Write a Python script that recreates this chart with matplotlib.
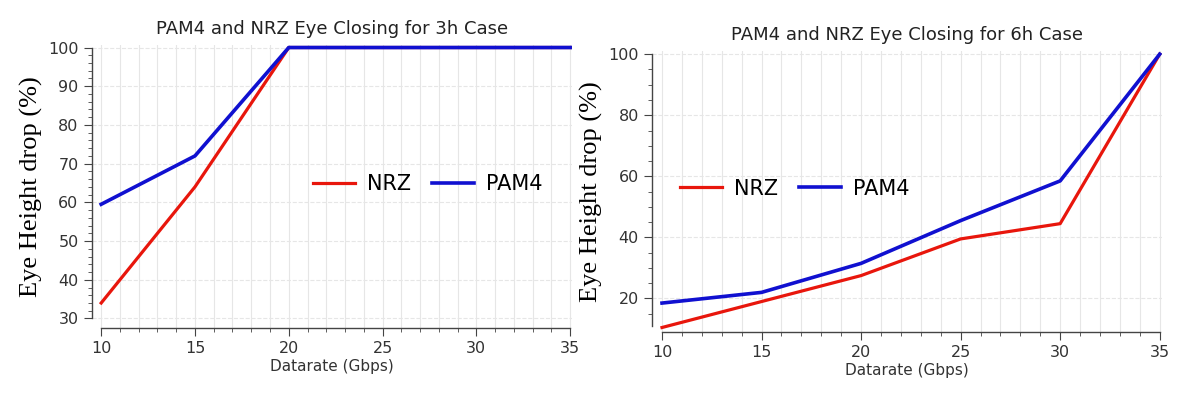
import matplotlib
matplotlib.use("Agg")
import matplotlib.pyplot as plt
import numpy as np
from matplotlib.ticker import MultipleLocator, FixedLocator

# data
rates = [10, 15, 20, 25, 30, 35]
nrz_3h = [34, 64, 100, 100, 100, 100]
pam4_3h = [59.5, 72, 100, 100, 100, 100]
nrz_6h = [10.5, 19, 27.5, 39.5, 44.5, 100]
pam4_6h = [18.5, 22, 31.5, 45.5, 58.5, 100]

fig = plt.figure(figsize=(11.77, 3.93), dpi=100)
ax1 = fig.add_axes([0.078, 0.165, 0.408, 0.72])
ax2 = fig.add_axes([0.554, 0.155, 0.433, 0.715])


def style(ax, title, ylim, ymaj, ymin, ybounds):
    ax.set_xlim(9.5, 35.1)
    ax.set_ylim(*ylim)
    ax.spines["top"].set_visible(False)
    ax.spines["right"].set_visible(False)
    for s in ("left", "bottom"):
        ax.spines[s].set_color("#444444")
        ax.spines[s].set_linewidth(1.0)
    ax.spines["bottom"].set_bounds(10, 35)
    ax.spines["left"].set_bounds(*ybounds)
    ax.xaxis.set_major_locator(MultipleLocator(5))
    ax.xaxis.set_minor_locator(MultipleLocator(1))
    ax.yaxis.set_major_locator(MultipleLocator(ymaj))
    ax.yaxis.set_minor_locator(FixedLocator(np.arange(ybounds[0], ybounds[1] + 0.1, ymin)))
    ax.tick_params(which="major", length=6, color="#444444", labelsize=11.5,
                   labelcolor="#333333")
    ax.tick_params(which="minor", length=3, color="#444444")
    ax.grid(axis="x", which="both", color="#e6e6e6", linewidth=0.8)
    ax.grid(axis="y", which="major", color="#e6e6e6", linewidth=0.8, linestyle="--")
    ax.set_axisbelow(True)
    ax.set_title(title, fontsize=13, color="#222222", pad=8)
    ax.set_xlabel("Datarate (Gbps)", fontsize=11, color="#333333", labelpad=2)
    ax.set_ylabel("Eye Height drop (%)", fontsize=19, family="Liberation Serif",
                  labelpad=4)


ax1.plot(rates, nrz_3h, color="#e8160c", linewidth=2.3, label="NRZ")
ax1.plot(rates, pam4_3h, color="#1010d0", linewidth=2.6, label="PAM4")
style(ax1, "PAM4 and NRZ Eye Closing for 3h Case", (27.5, 100.6), 10, 2, (30, 100))
ax1.legend(loc="center", bbox_to_anchor=(0.70, 0.51), ncol=2, frameon=False,
           fontsize=15, handlelength=2.0, columnspacing=1.0, handletextpad=0.6)

ax2.plot(rates, nrz_6h, color="#e8160c", linewidth=2.3, label="NRZ")
ax2.plot(rates, pam4_6h, color="#1010d0", linewidth=2.6, label="PAM4")
style(ax2, "PAM4 and NRZ Eye Closing for 6h Case", (9, 101), 20, 5, (15, 100))
ax2.spines["left"].set_bounds(11, 100)
ax2.legend(loc="center", bbox_to_anchor=(0.28, 0.51), ncol=2, frameon=False,
           fontsize=15, handlelength=2.0, columnspacing=1.0, handletextpad=0.6)

fig.savefig("out.png", dpi=100)
